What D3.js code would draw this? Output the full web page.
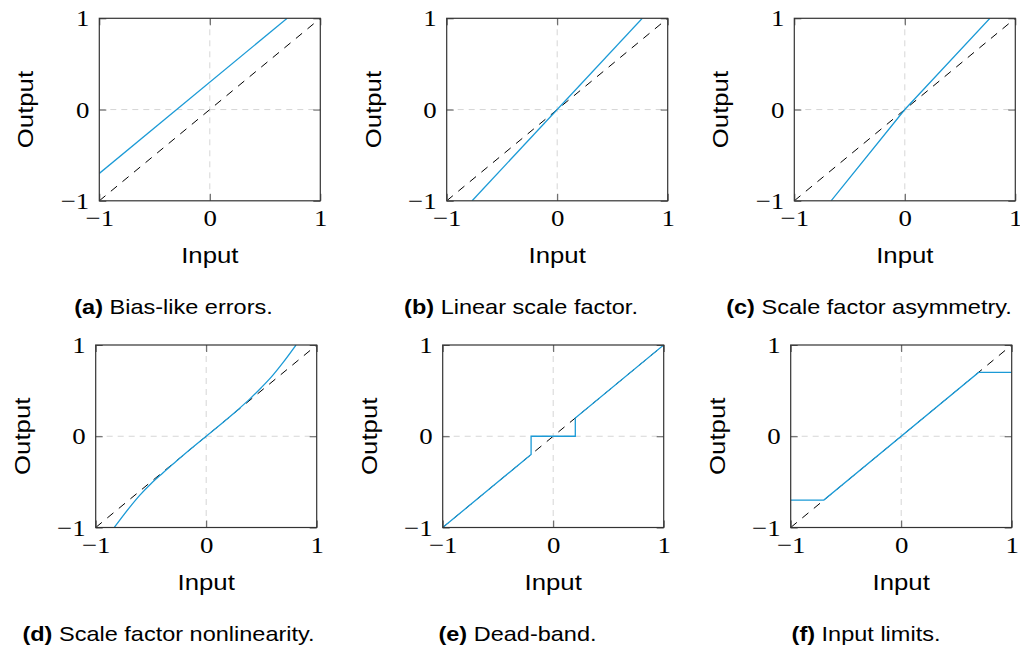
<!DOCTYPE html>
<html><head><meta charset="utf-8">
<script src="https://cdn.jsdelivr.net/npm/d3@7"></script>
<style>body{margin:0;background:#fff}</style>
</head><body><svg id="c" width="1020" height="652"></svg>
<script>
// ---------- data ----------
const tickValues = [-1, 0, 1];
const identityX = [-1, 1];
const identityY = [-1, 1];
const biasX = [-1, 0.7];
const biasY = [-0.7, 1];
const linearX = [-0.77, 0.77];
const linearY = [-1, 1];
const asymX = [-0.667, 0, 0.77];
const asymY = [-1, 0, 1];
const nonlinX = [-0.832, -0.7, -0.6, -0.5, -0.4, -0.3, -0.2, 0, 0.2, 0.3, 0.4, 0.5, 0.6, 0.7, 0.813];
const nonlinY = [-1, -0.79, -0.645, -0.52, -0.41, -0.305, -0.2, 0, 0.2, 0.305, 0.415, 0.535, 0.665, 0.815, 1];
const deadX = [-1, -0.2, -0.2, 0.2, 0.2, 1];
const deadY = [-1, -0.2, 0, 0, 0.2, 1];
const limitX = [-1, -0.7, 0.7, 1];
const limitY = [-0.7, -0.7, 0.7, 0.7];
const captionTags = ["(a)", "(b)", "(c)", "(d)", "(e)", "(f)"];
const captionTexts = ["Bias-like errors.", "Linear scale factor.", "Scale factor asymmetry.",
                      "Scale factor nonlinearity.", "Dead-band.", "Input limits."];
const xLabel = "Input";
const yLabel = "Output";

const seriesX = [biasX, linearX, asymX, nonlinX, deadX, limitX];
const seriesY = [biasY, linearY, asymY, nonlinY, deadY, limitY];

// ---------- layout ----------
const boxW = 221, boxH = 182.5;
const lefts = [[99.3, 446.7, 794.3], [95.7, 442.7, 790.7]];
const tops = [18.3, 345];
const capCenters = [[173.5, 521, 869], [168.5, 517.5, 866]];
const sx = 1.12; // horizontal text stretch seen in the reference

const svg = d3.select("#c");
const blue = "#1b9ad6";
const serif = "'Liberation Serif','DejaVu Serif',serif";
const sans = "'Liberation Sans',Arial,Helvetica,sans-serif";
const fmt = d3.format("d");

for (let i = 0; i < 6; i++) {
  const r = Math.floor(i / 3), c = i % 3;
  const L = lefts[r][c], T = tops[r];
  const g = svg.append("g").attr("transform", `translate(${L},${T})`);
  const x = d3.scaleLinear().domain([-1, 1]).range([0, boxW]);
  const y = d3.scaleLinear().domain([-1, 1]).range([boxH, 0]);

  const clipId = "clip" + i;
  g.append("clipPath").attr("id", clipId).append("rect")
    .attr("width", boxW).attr("height", boxH);

  // grid at 0
  const grid = g.append("g").attr("stroke", "#d6d6d6").attr("stroke-width", 1)
    .attr("stroke-dasharray", "6,5");
  grid.append("line").attr("x1", x(0)).attr("x2", x(0)).attr("y1", 0).attr("y2", boxH);
  grid.append("line").attr("y1", y(0)).attr("y2", y(0)).attr("x1", 0).attr("x2", boxW);

  const line = d3.line().x(d => x(d[0])).y(d => y(d[1]));
  const lineM = d3.line().x(d => x(d[0])).y(d => y(d[1])).curve(d3.curveMonotoneX);

  // identity reference
  g.append("path").attr("d", line(d3.zip(identityX, identityY)))
    .attr("fill", "none").attr("stroke", "#000").attr("stroke-width", 1)
    .attr("stroke-dasharray", "8,7").attr("clip-path", `url(#${clipId})`);

  // model
  g.append("path").attr("d", (i === 3 ? lineM : line)(d3.zip(seriesX[i], seriesY[i])))
    .attr("fill", "none").attr("stroke", blue).attr("stroke-width", 1.3)
    .attr("clip-path", `url(#${clipId})`);

  // axes
  const tickLen = 7;
  const ab = g.append("g").attr("transform", `translate(0,${boxH})`)
    .call(d3.axisBottom(x).tickValues(tickValues).tickFormat(fmt).tickSizeInner(-tickLen).tickSizeOuter(0).tickPadding(8));
  const at = g.append("g")
    .call(d3.axisTop(x).tickValues(tickValues).tickSizeInner(-tickLen).tickSizeOuter(0).tickFormat(""));
  const al = g.append("g")
    .call(d3.axisLeft(y).tickValues(tickValues).tickFormat(fmt).tickSizeInner(-tickLen).tickSizeOuter(0).tickPadding(10));
  const ar = g.append("g").attr("transform", `translate(${boxW},0)`)
    .call(d3.axisRight(y).tickValues(tickValues).tickSizeInner(-tickLen).tickSizeOuter(0).tickFormat(""));
  [ab, at, al, ar].forEach(a => {
    a.select(".domain").remove();
    a.selectAll(".tick line").attr("stroke", "#555").attr("stroke-width", 1);
    a.selectAll("text").attr("font-family", serif).attr("font-size", 24).attr("fill", "#000");
  });
  ab.selectAll("text").attr("transform", `scale(${sx},1)`);
  al.selectAll("text").attr("x", -10 / sx).attr("transform", `scale(${sx},1)`);

  // frame
  g.append("rect").attr("width", boxW).attr("height", boxH)
    .attr("fill", "none").attr("stroke", "#333").attr("stroke-width", 1.2);

  // axis labels
  g.append("text").attr("transform", `translate(${boxW / 2},${boxH + 62}) scale(${sx},1)`)
    .attr("text-anchor", "middle").attr("font-family", sans).attr("font-size", 23)
    .text(xLabel);
  g.append("text").attr("transform", `translate(-74,${boxH / 2}) rotate(-90) scale(${sx},1)`)
    .attr("text-anchor", "middle").attr("dy", "0.35em")
    .attr("font-family", sans).attr("font-size", 23).text(yLabel);

  // caption
  const cap = svg.append("text")
    .attr("transform", `translate(${capCenters[r][c]},${T + boxH + 113}) scale(${sx},1)`)
    .attr("text-anchor", "middle").attr("font-family", sans).attr("font-size", 21);
  cap.append("tspan").attr("font-weight", "bold").text(captionTags[i]);
  cap.append("tspan").text(" " + captionTexts[i]);
}
</script>
</body></html>
